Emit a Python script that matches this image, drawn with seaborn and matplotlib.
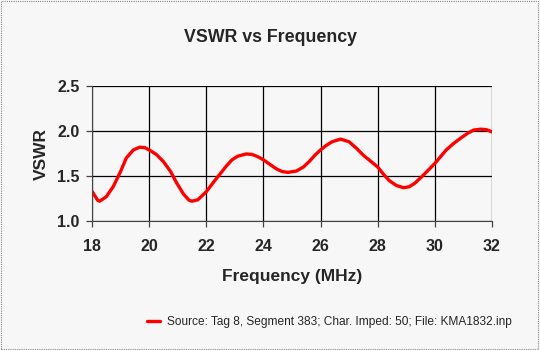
import matplotlib
matplotlib.use("Agg")
import matplotlib.pyplot as plt
import seaborn as sns
import pandas as pd
from matplotlib.patches import Rectangle

freq_mhz = [18.0, 18.2, 18.27, 18.5, 18.74, 19.0, 19.2, 19.45, 19.67, 19.85, 20.0, 20.25, 20.5, 20.75,
            20.95, 21.2, 21.4, 21.5, 21.7, 22.0, 22.25, 22.5, 22.7, 22.9, 23.1, 23.4, 23.6, 23.8, 24.0,
            24.2, 24.45, 24.65, 24.85, 25.15, 25.4, 25.6, 25.8, 26.0, 26.2, 26.4, 26.7, 27.0, 27.25,
            27.5, 27.75, 28.0, 28.2, 28.4, 28.65, 28.9, 29.1, 29.3, 29.6, 30.0, 30.2, 30.4, 30.65,
            30.9, 31.15, 31.35, 31.6, 31.8, 32.0]
vswr = [1.33, 1.23, 1.22, 1.27, 1.38, 1.55, 1.70, 1.79, 1.82, 1.815, 1.79, 1.74, 1.66, 1.55,
        1.43, 1.30, 1.23, 1.22, 1.235, 1.325, 1.43, 1.53, 1.61, 1.68, 1.72, 1.745, 1.74, 1.715, 1.68,
        1.635, 1.58, 1.55, 1.54, 1.555, 1.60, 1.66, 1.73, 1.79, 1.84, 1.88, 1.91, 1.88, 1.81,
        1.73, 1.665, 1.60, 1.52, 1.45, 1.395, 1.37, 1.38, 1.42, 1.51, 1.64, 1.715, 1.79, 1.86,
        1.92, 1.975, 2.01, 2.02, 2.015, 1.99]

x_ticks = [18, 20, 22, 24, 26, 28, 30, 32]
y_ticks = [1.0, 1.5, 2.0, 2.5]
series_label = "Source: Tag 8, Segment 383; Char. Imped: 50; File: KMA1832.inp"

df = pd.DataFrame({"Frequency (MHz)": freq_mhz, "VSWR": vswr})

sns.set_style("white")
plt.rcParams["font.family"] = ["Liberation Sans", "DejaVu Sans"]

bg = "#f7f7f7"
fig = plt.figure(figsize=(5.4, 3.5), dpi=100, facecolor=bg)
ax = fig.add_axes([92 / 540, 1 - 221 / 350, 400 / 540, 135 / 350])
ax.set_facecolor(bg)

sns.lineplot(data=df, x="Frequency (MHz)", y="VSWR", ax=ax, color="#ff0000",
             linewidth=2.4, label=series_label, legend=False)
ax.lines[0].set_solid_joinstyle("round")
ax.lines[0].set_solid_capstyle("round")

ax.set_xlim(18, 32)
ax.set_ylim(1.0, 2.5)
ax.set_xticks(x_ticks)
ax.set_yticks(y_ticks)
ax.set_xticklabels([str(t) for t in x_ticks], fontsize=11.5, fontweight="bold")
ax.set_yticklabels([f"{t:.1f}" for t in y_ticks], fontsize=11.5, fontweight="bold")
ax.grid(True, color="black", linewidth=0.9)
ax.tick_params(axis="both", direction="out", length=4, width=0.9, color="#444444",
               bottom=True, left=True)
ax.tick_params(axis="x", pad=9)
ax.tick_params(axis="y", pad=5)
for s in ax.spines.values():
    s.set_visible(False)
ax.spines["left"].set_visible(True)
ax.spines["bottom"].set_visible(True)
ax.spines["left"].set_color("#444444")
ax.spines["bottom"].set_color("#444444")

ax.set_xlabel("Frequency (MHz)", fontsize=12.5, fontweight="bold", labelpad=11)
ax.set_ylabel("VSWR", fontsize=12.5, fontweight="bold", labelpad=6)

fig.text(0.5, 1 - 37 / 350, "VSWR vs Frequency", ha="center", va="center",
         fontsize=12.8, fontweight="bold")

leg = fig.legend(loc="center right", bbox_to_anchor=(517 / 540, 1 - 322 / 350), frameon=False,
                 fontsize=8.6, handlelength=1.1, handletextpad=0.6, borderaxespad=0)

fig.patches.append(Rectangle((0.002, 0.003), 0.994, 0.994, transform=fig.transFigure,
                             fill=False, edgecolor="#888888", linestyle=(0, (1, 1)), linewidth=0.8))

fig.savefig("out.png", dpi=100, facecolor=bg)
